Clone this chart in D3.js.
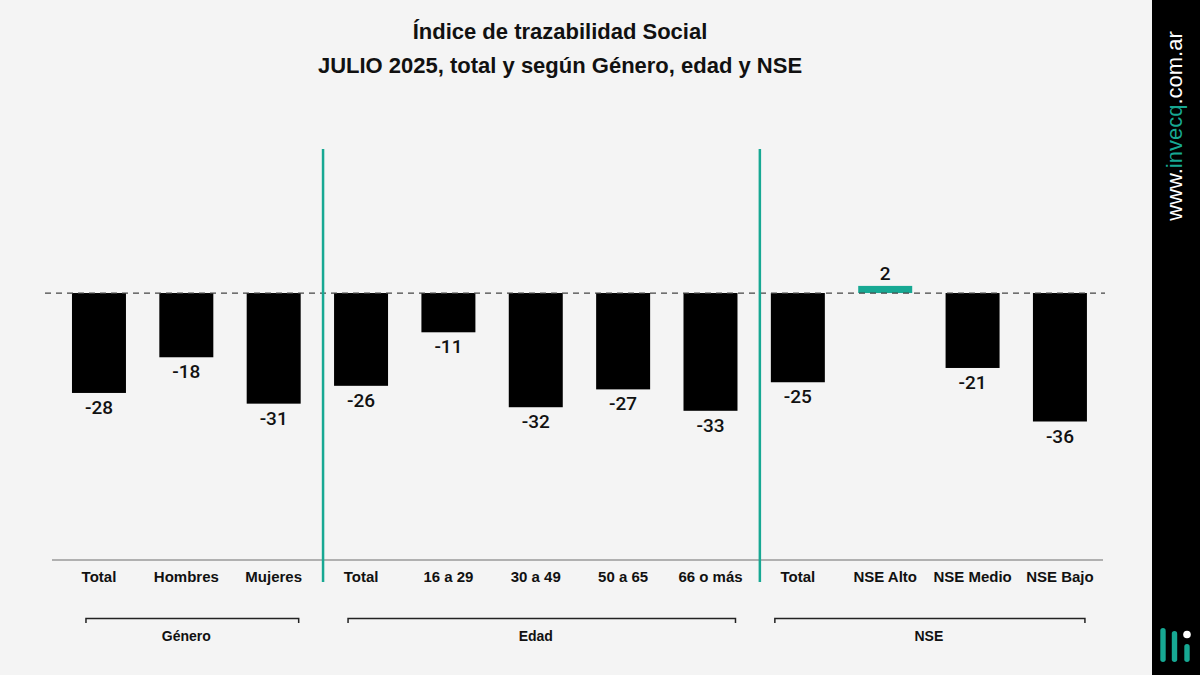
<!DOCTYPE html>
<html>
<head>
<meta charset="utf-8">
<script src="https://cdn.jsdelivr.net/npm/d3@7"></script>
<style>
  body { margin: 0; background: #f4f4f4; }
  svg { display: block; font-family: "Liberation Sans", Arial, sans-serif; }
</style>
</head>
<body>
<script>
// chart data
const categories = ["Total", "Hombres", "Mujeres", "Total", "16 a 29", "30 a 49", "50 a 65", "66 o más", "Total", "NSE Alto", "NSE Medio", "NSE Bajo"];
const values = [-28, -18, -31, -26, -11, -32, -27, -33, -25, 2, -21, -36];
const groupNames = ["Género", "Edad", "NSE"];
const groupSizes = [3, 5, 4];
const titleLines = ["Índice de trazabilidad Social", "JULIO 2025, total y según Género, edad y NSE"];

const width = 1200, height = 675;
const teal = "#17a893";

let svg = d3.select("body").append("svg")
  .attr("width", width)
  .attr("height", height);

svg.append("rect").attr("width", width).attr("height", height).attr("fill", "#f4f4f4");

// scales
let x = d3.scaleBand()
  .domain(d3.range(categories.length))
  .range([38.6, 1120.3])
  .paddingInner(0.382)
  .paddingOuter(0.382);

let y = d3.scaleLinear()
  .domain([-36, 2])
  .range([421.5, 285.9]);

// title
svg.selectAll(".title")
  .data(titleLines)
  .enter()
  .append("text")
  .attr("class", "title")
  .attr("x", 560)
  .attr("y", (d, i) => 39 + i * 34)
  .attr("text-anchor", "middle")
  .attr("font-size", 22)
  .attr("font-weight", "bold")
  .attr("fill", "#111")
  .text(d => d);

// bottom baseline
svg.append("line")
  .attr("x1", 52).attr("x2", 1103)
  .attr("y1", 560).attr("y2", 560)
  .attr("stroke", "#9a9a9a")
  .attr("stroke-width", 1.5);

// bars
svg.selectAll(".bar")
  .data(values)
  .enter()
  .append("rect")
  .attr("class", "bar")
  .attr("x", (d, i) => x(i))
  .attr("width", x.bandwidth())
  .attr("y", d => y(Math.max(0, d)))
  .attr("height", d => Math.abs(y(d) - y(0)))
  .attr("fill", d => d >= 0 ? teal : "#000");

// zero line (dashed)
svg.append("line")
  .attr("x1", 45).attr("x2", 1105)
  .attr("y1", y(0)).attr("y2", y(0))
  .attr("stroke", "#444")
  .attr("stroke-width", 1.2)
  .attr("stroke-dasharray", "6,5");

// value labels
svg.selectAll(".val")
  .data(values)
  .enter()
  .append("text")
  .attr("class", "val")
  .attr("x", (d, i) => x(i) + x.bandwidth() / 2)
  .attr("y", d => d >= 0 ? y(d) - 6 : y(d) + 21)
  .attr("text-anchor", "middle")
  .attr("font-family", "Roboto, 'Liberation Sans', sans-serif")
  .attr("font-size", 19)
  .attr("font-weight", 500)
  .attr("fill", "#111")
  .text(d => d);

// category labels
svg.selectAll(".cat")
  .data(categories)
  .enter()
  .append("text")
  .attr("class", "cat")
  .attr("x", (d, i) => x(i) + x.bandwidth() / 2)
  .attr("y", 581.5)
  .attr("text-anchor", "middle")
  .attr("font-size", 15)
  .attr("font-weight", "bold")
  .attr("fill", "#111")
  .text(d => d);

// groups: brackets, labels and separators
let start = 0;
groupSizes.forEach((size, g) => {
  let first = start, last = start + size - 1;
  let x0 = x(first) + (g < 2 ? 14 : 4);
  let x1 = x(last) + x.bandwidth() - 2;
  svg.append("path")
    .attr("d", `M${x0},623V618.5H${x1}V623`)
    .attr("fill", "none")
    .attr("stroke", "#222")
    .attr("stroke-width", 1.5);
  svg.append("text")
    .attr("x", (x(first) + x(last) + x.bandwidth()) / 2)
    .attr("y", 641)
    .attr("text-anchor", "middle")
    .attr("font-size", 14)
    .attr("font-weight", "bold")
    .attr("fill", "#111")
    .text(groupNames[g]);
  if (g > 0) {
    let sx = x(first) - 11;
    svg.append("line")
      .attr("x1", sx).attr("x2", sx)
      .attr("y1", 149).attr("y2", 582)
      .attr("stroke", teal)
      .attr("stroke-width", 2.5);
  }
  start += size;
});

// side banner
svg.append("rect")
  .attr("x", 1152).attr("y", 0)
  .attr("width", 48).attr("height", height)
  .attr("fill", "#000");

let site = svg.append("text")
  .attr("transform", "translate(1182,126) rotate(-90)")
  .attr("text-anchor", "middle")
  .attr("font-size", 22)
  .attr("fill", "#fff");
site.append("tspan").text("www.");
site.append("tspan").attr("fill", teal).text("invecq");
site.append("tspan").text(".com.ar");

// logo
let logo = svg.append("g");
[[1163, 628], [1174.5, 631], [1187, 644]].forEach(b => {
  logo.append("rect")
    .attr("x", b[0] - 2.7).attr("y", b[1])
    .attr("width", 5.4).attr("height", 662 - b[1])
    .attr("rx", 2.7)
    .attr("fill", teal);
});
logo.append("circle")
  .attr("cx", 1187).attr("cy", 634.5).attr("r", 3.8)
  .attr("fill", "#fff");
</script>
</body>
</html>
